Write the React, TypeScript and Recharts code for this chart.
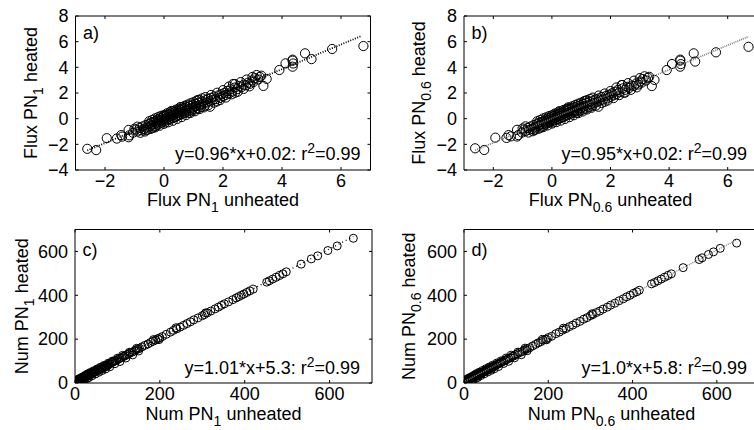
import React from "react";
import { ScatterChart, Scatter, XAxis, YAxis, ReferenceArea, Label } from "recharts";

const FONT = '"Liberation Sans", Arial, Helvetica, sans-serif';
const FS = 18;
const XAXIS_H = 30;
const TICK = 3;

// [unheated, heated]
const fluxPN1: [number, number][] = [
  [-2.6, -2.35], [-2.3, -2.45], [-1.94, -1.52], [-1.6, -1.55], [-1.45, -1.28], [-1.42, -1.4],
  [-1.2, -0.88], [-1.2, -1.45], [-1.18, -1.3], [-1.05, -1.1], [-0.95, -0.85], [-0.9, -1.0],
  [-0.82, -0.72], [-0.78, -0.9], [-0.72, -0.6], [-0.68, -0.82], [-0.62, -0.5], [-0.6, -0.7],
  [-0.55, -0.85], [-0.52, -0.42], [-0.48, -0.6], [-0.45, -0.32], [-0.42, -0.5], [-0.38, -0.72],
  [-0.35, -0.25], [-0.32, -0.42], [-0.3, -0.58], [-0.27, -0.15], [-0.25, -0.32], [-0.22, -0.48],
  [-0.2, -0.05], [-0.18, -0.22], [-0.15, -0.38], [-0.12, 0.05], [-0.1, -0.12], [-0.08, -0.3],
  [-0.05, 0.12], [-0.02, -0.05], [0.0, -0.22], [0.02, 0.2], [0.05, 0.02], [0.08, -0.12],
  [0.1, 0.28], [0.12, 0.1], [0.15, -0.05], [0.18, 0.35], [0.2, 0.15], [0.22, -0.02],
  [0.25, 0.4], [0.28, 0.22], [0.3, 0.05], [0.32, 0.48], [0.35, 0.3], [0.38, 0.12],
  [0.4, 0.55], [0.42, 0.38], [0.45, 0.2], [0.48, 0.62], [0.5, 0.45], [0.52, 0.28],
  [0.55, 0.7], [0.58, 0.5], [0.6, 0.35], [0.62, 0.78], [0.65, 0.58], [0.68, 0.42],
  [0.7, 0.85], [0.72, 0.65], [0.75, 0.5], [0.78, 0.92], [0.8, 0.72], [0.85, 0.6],
  [0.88, 1.0], [0.9, 0.8], [0.95, 0.65], [0.98, 1.08], [1.0, 0.88], [1.05, 0.72],
  [1.08, 1.15], [1.1, 0.98], [1.15, 0.8], [1.18, 1.25], [1.2, 1.05], [1.25, 0.9],
  [1.3, 1.35], [1.32, 1.15], [1.38, 1.0], [1.42, 1.45], [1.45, 1.25], [1.5, 1.55],
  [1.55, 1.35], [1.56, 0.93], [1.6, 1.62], [1.65, 1.45], [1.7, 1.72], [1.75, 1.52],
  [1.8, 1.35], [1.85, 1.82], [1.9, 1.62], [1.95, 1.9], [2.0, 1.75], [2.05, 2.02],
  [2.1, 1.85], [2.15, 2.15], [2.2, 1.95], [2.25, 2.28], [2.3, 2.1], [2.34, 2.7],
  [2.41, 2.02], [2.4, 2.42], [2.48, 2.3], [2.55, 2.55], [2.62, 2.45], [2.7, 2.65],
  [2.78, 2.6], [2.85, 2.8], [2.92, 2.72], [3.0, 2.98], [3.03, 2.86], [3.08, 3.15],
  [3.14, 3.4], [3.2, 3.05], [3.25, 3.25], [3.3, 3.35], [3.37, 2.55], [3.48, 3.1],
  [3.91, 3.79], [4.12, 4.31], [4.36, 4.52], [4.36, 4.05], [4.36, 4.6], [4.38, 4.3],
  [4.78, 5.09], [5.0, 4.64], [5.7, 5.43], [6.76, 5.66],
  [-0.5, -0.2], [-0.4, -0.1], [-0.3, 0.02], [-0.2, 0.12], [-0.1, 0.22], [0.0, 0.28],
  [0.1, 0.42], [0.2, 0.5], [0.3, 0.58], [0.4, 0.7], [0.5, 0.78], [0.6, 0.9],
  [0.7, 1.0], [0.8, 1.1], [0.9, 1.2], [1.0, 1.28], [1.1, 1.4], [1.2, 1.48],
  [1.3, 1.58], [1.4, 1.68], [1.6, 1.85], [-0.6, -0.9], [-0.45, -0.8], [-0.3, -0.68],
  [-0.15, -0.55], [0.0, -0.4], [0.15, -0.28], [0.3, -0.16], [0.45, -0.02], [0.6, 0.12],
  [0.75, 0.28], [0.9, 0.45], [1.05, 0.58], [1.2, 0.75], [1.35, 0.88], [1.5, 1.05],
  [1.7, 1.25], [1.9, 1.45], [2.1, 1.65], [2.3, 1.9], [2.5, 2.1], [2.7, 2.32],
  [2.9, 2.52], [2.2, 2.5], [2.4, 2.7], [2.6, 2.85], [2.8, 3.05], [3.0, 3.25],
  [1.8, 2.02], [2.0, 2.22], [-0.9, -0.62], [-1.0, -0.78], [-0.8, -1.1], [-0.65, -1.0],
  [0.25, 0.6], [0.55, 0.9], [0.85, 0.45], [1.15, 1.45], [0.05, -0.3],
];

const fluxPN06: [number, number][] = [
  [-2.62, -2.31], [-2.31, -2.44], [-1.93, -1.48], [-1.55, -1.5], [-1.48, -1.28], [-1.4, -1.38],
  [-1.19, -0.87], [-1.19, -1.39], [-1.15, -1.28], [-1.02, -1.08], [-0.95, -0.85], [-0.9, -0.98],
  [-0.82, -0.72], [-0.78, -0.88], [-0.72, -0.6], [-0.68, -0.8], [-0.62, -0.5], [-0.6, -0.68],
  [-0.55, -0.84], [-0.52, -0.42], [-0.48, -0.58], [-0.45, -0.32], [-0.42, -0.5], [-0.38, -0.7],
  [-0.35, -0.26], [-0.32, -0.42], [-0.3, -0.56], [-0.27, -0.16], [-0.25, -0.32], [-0.22, -0.46],
  [-0.2, -0.06], [-0.18, -0.22], [-0.15, -0.36], [-0.12, 0.04], [-0.1, -0.12], [-0.08, -0.28],
  [-0.05, 0.1], [-0.02, -0.05], [0.0, -0.2], [0.02, 0.18], [0.05, 0.02], [0.08, -0.12],
  [0.1, 0.26], [0.12, 0.1], [0.15, -0.04], [0.18, 0.33], [0.2, 0.15], [0.22, -0.02],
  [0.25, 0.38], [0.28, 0.21], [0.3, 0.05], [0.32, 0.46], [0.35, 0.29], [0.38, 0.12],
  [0.4, 0.53], [0.42, 0.37], [0.45, 0.2], [0.48, 0.6], [0.5, 0.44], [0.52, 0.27],
  [0.55, 0.68], [0.58, 0.49], [0.6, 0.34], [0.62, 0.76], [0.65, 0.57], [0.68, 0.41],
  [0.7, 0.83], [0.72, 0.63], [0.75, 0.49], [0.78, 0.9], [0.8, 0.7], [0.85, 0.58],
  [0.88, 0.97], [0.9, 0.78], [0.95, 0.63], [0.98, 1.05], [1.0, 0.86], [1.05, 0.7],
  [1.08, 1.12], [1.1, 0.95], [1.15, 0.78], [1.18, 1.22], [1.2, 1.02], [1.25, 0.88],
  [1.3, 1.32], [1.32, 1.12], [1.38, 0.98], [1.42, 1.42], [1.45, 1.22], [1.5, 1.51],
  [1.55, 1.32], [1.59, 0.93], [1.6, 1.58], [1.65, 1.42], [1.7, 1.68], [1.75, 1.49],
  [1.8, 1.32], [1.85, 1.78], [1.9, 1.58], [1.95, 1.86], [2.0, 1.71], [2.05, 1.98],
  [2.1, 1.81], [2.15, 2.1], [2.2, 1.91], [2.25, 2.23], [2.3, 2.06], [2.38, 2.62],
  [2.45, 2.02], [2.42, 2.36], [2.5, 2.25], [2.57, 2.48], [2.64, 2.4], [2.72, 2.58],
  [2.8, 2.55], [2.88, 2.74], [2.95, 2.66], [3.02, 2.9], [3.06, 2.8], [3.1, 3.08],
  [3.16, 3.3], [3.22, 2.98], [3.28, 3.18], [3.32, 3.26], [3.41, 2.54], [3.5, 3.02],
  [3.92, 3.79], [4.1, 4.26], [4.38, 4.52], [4.38, 4.05], [4.38, 4.6], [4.4, 4.25],
  [4.84, 5.09], [4.89, 4.45], [5.6, 5.17], [6.71, 5.6],
  [-0.5, -0.2], [-0.4, -0.1], [-0.3, 0.02], [-0.2, 0.1], [-0.1, 0.2], [0.0, 0.27],
  [0.1, 0.4], [0.2, 0.48], [0.3, 0.56], [0.4, 0.68], [0.5, 0.76], [0.6, 0.87],
  [0.7, 0.97], [0.8, 1.07], [0.9, 1.17], [1.0, 1.25], [1.1, 1.36], [1.2, 1.44],
  [1.3, 1.54], [1.4, 1.64], [1.6, 1.8], [-0.6, -0.88], [-0.45, -0.78], [-0.3, -0.66],
  [-0.15, -0.53], [0.0, -0.38], [0.15, -0.27], [0.3, -0.15], [0.45, -0.02], [0.6, 0.12],
  [0.75, 0.27], [0.9, 0.43], [1.05, 0.56], [1.2, 0.72], [1.35, 0.85], [1.5, 1.02],
  [1.7, 1.22], [1.9, 1.41], [2.1, 1.6], [2.3, 1.84], [2.5, 2.03], [2.7, 2.25],
  [2.9, 2.44], [2.2, 2.43], [2.4, 2.62], [2.6, 2.77], [2.8, 2.96], [3.0, 3.16],
  [1.8, 1.96], [2.0, 2.15], [-0.9, -0.6], [-1.0, -0.76], [-0.8, -1.08], [-0.65, -0.98],
  [0.25, 0.58], [0.55, 0.87], [0.85, 0.45], [1.15, 1.4], [0.05, -0.29],
];

const numPN1: [number, number][] = [
  [3, 6], [4, 10], [5, 7], [6, 12], [7, 9], [8, 14], [9, 11], [10, 16], [11, 13], [12, 18],
  [13, 15], [14, 20], [15, 17], [16, 22], [17, 19], [18, 24], [19, 21], [20, 26], [21, 23],
  [22, 28], [23, 25], [24, 31], [25, 27], [26, 33], [27, 29], [28, 35], [29, 31], [30, 37],
  [31, 34], [32, 39], [33, 36], [34, 41], [35, 38], [36, 43], [37, 40], [38, 45], [39, 42],
  [40, 48], [42, 45], [44, 51], [46, 49], [48, 55], [50, 53], [52, 59], [54, 57], [56, 63],
  [58, 61], [60, 67], [62, 65], [64, 71], [66, 69], [68, 75], [70, 73], [72, 79], [74, 77],
  [76, 83], [78, 81], [80, 87], [83, 88], [86, 93], [89, 95], [92, 99], [95, 101], [98, 105],
  [102, 108], [106, 113], [110, 116], [114, 121], [118, 124], [122, 129], [126, 132],
  [130, 137], [135, 141], [140, 146], [144, 151], [148, 155], [152, 158], [158, 165],
  [165, 172], [172, 178], [178, 185], [184, 190], [190, 196], [195, 202], [200, 206],
  [206, 212], [215, 222], [225, 232], [232, 240], [240, 247], [248, 255], [256, 263],
  [264, 271], [272, 279], [280, 288], [290, 297], [300, 307], [305, 312], [312, 320],
  [320, 328], [330, 338], [338, 346], [345, 354], [352, 361], [362, 370], [372, 380],
  [380, 388], [386, 394], [392, 400], [398, 406], [405, 413], [412, 420], [420, 428],
  [452, 460], [458, 466], [466, 474], [474, 482], [482, 490], [490, 498], [498, 507],
  [533, 542], [557, 566], [572, 580], [596, 604], [618, 625], [656, 660],
  [5, 15], [8, 4], [10, 20], [12, 6], [15, 25], [18, 10], [20, 30], [22, 14], [25, 36],
  [28, 20], [30, 42], [33, 25], [36, 48], [40, 33], [44, 56], [48, 41], [52, 64], [56, 49],
  [60, 72], [64, 57], [68, 80], [72, 64], [78, 90], [82, 74], [88, 100], [94, 88],
  [100, 113], [106, 98], [112, 126], [120, 114], [128, 140], [136, 128], [145, 158],
  [150, 146], [185, 198], [198, 198], [238, 252], [308, 320],
];

const numPN06: [number, number][] = [
  [3, 8], [4, 11], [5, 9], [6, 13], [7, 10], [8, 15], [9, 12], [10, 17], [11, 14], [12, 19],
  [13, 16], [14, 21], [15, 18], [16, 23], [17, 20], [18, 25], [19, 22], [20, 27], [21, 24],
  [22, 29], [23, 26], [24, 31], [25, 28], [26, 33], [27, 30], [28, 35], [29, 32], [30, 37],
  [31, 34], [32, 39], [33, 36], [34, 41], [35, 38], [36, 43], [37, 40], [38, 45], [39, 42],
  [40, 47], [42, 45], [44, 51], [46, 49], [48, 55], [50, 53], [52, 59], [54, 57], [56, 63],
  [58, 61], [60, 67], [62, 65], [64, 71], [66, 69], [68, 75], [70, 73], [72, 79], [75, 80],
  [78, 85], [81, 86], [84, 91], [87, 92], [90, 97], [94, 99], [98, 105], [102, 107],
  [106, 113], [110, 115], [114, 121], [118, 123], [122, 129], [127, 133], [132, 139],
  [137, 142], [142, 149], [146, 152], [150, 157], [156, 161], [163, 169], [170, 176],
  [176, 183], [182, 188], [188, 195], [194, 199], [200, 207], [208, 213], [218, 225],
  [226, 232], [234, 241], [242, 248], [250, 257], [258, 264], [266, 273], [275, 281],
  [284, 291], [292, 298], [300, 307], [306, 312], [314, 321], [322, 328], [330, 337],
  [340, 346], [348, 355], [358, 364], [368, 375], [378, 384], [386, 393], [394, 400],
  [402, 409], [410, 416], [416, 423], [445, 452], [452, 458], [460, 466], [468, 474],
  [476, 482], [484, 490], [492, 498], [520, 526], [558, 563], [565, 571], [580, 586],
  [592, 598], [608, 614], [647, 638],
  [5, 16], [8, 5], [10, 21], [12, 7], [15, 26], [18, 11], [20, 31], [22, 15], [25, 37],
  [28, 21], [30, 43], [33, 26], [36, 49], [40, 34], [44, 57], [48, 42], [52, 65], [56, 50],
  [60, 73], [64, 58], [68, 81], [72, 65], [78, 91], [82, 75], [88, 101], [94, 89],
  [100, 114], [106, 99], [112, 127], [120, 115], [128, 141], [136, 129], [145, 159],
  [150, 147], [186, 199], [196, 197], [236, 250], [304, 316],
];

const fluxTicksX = [-2, 0, 2, 4, 6];
const fluxTicksY = [-4, -2, 0, 2, 4, 6, 8];
const numTicks = [0, 200, 400, 600];

// fitted lines: slope, intercept, x range
const fitA = [0.96, 0.02];
const fitB = [0.95, 0.02];
const fitC = [1.01, 5.3];
const fitD = [1.0, 5.8];
const fitRangeA = [-2.6, 6.7];
const fitRangeB = [-2.62, 6.71];
const fitRangeC = [3, 656];
const fitRangeD = [3, 647];

const fmt = (v: number) => (v < 0 ? `\u2212${-v}` : String(v));

const txt = { fontFamily: FONT, fontSize: FS, fill: "#000" };

function Panel(p: any) {
  const plotLeft = p.yAxisW;
  const plotRight = p.width - p.mRight;
  const plotTop = p.mTop;
  const plotBottom = p.height - p.mBottom - XAXIS_H;
  const midX = (plotLeft + plotRight) / 2;
  const midY = (plotTop + plotBottom) / 2;
  const pts = p.points.map(([x, y]: [number, number]) => ({ x, y }));
  const fitLine = p.fitRange.map((x: number) => ({ x, y: p.fit[0] * x + p.fit[1] }));

  const xTick = (t: any) => (
    <g>
      <line x1={t.x} x2={t.x} y1={plotBottom} y2={plotBottom - TICK} stroke="#000" />
      <line x1={t.x} x2={t.x} y1={plotTop} y2={plotTop + TICK} stroke="#000" />
      <text x={t.x} y={plotBottom + 17} textAnchor="middle" {...txt}>
        {fmt(t.payload.value)}
      </text>
    </g>
  );
  const yTick = (t: any) => (
    <g>
      <line x1={plotLeft} x2={plotLeft + TICK} y1={t.y} y2={t.y} stroke="#000" />
      <line x1={plotRight} x2={plotRight - TICK} y1={t.y} y2={t.y} stroke="#000" />
      <text x={plotLeft - 7} y={t.y} dy="0.35em" textAnchor="end" {...txt}>
        {fmt(t.payload.value)}
      </text>
    </g>
  );

  const xTitle = () => (
    <text x={midX} y={plotBottom + p.xTitleGap} textAnchor="middle" {...txt}>
      {p.name} PN
      <tspan dy={6} fontSize={14}>{p.sub}</tspan>
      <tspan dy={-6}> unheated</tspan>
    </text>
  );
  const yX = plotLeft - p.yTitleGap;
  const yTitle = () => (
    <text x={yX} y={midY} textAnchor="middle" transform={`rotate(-90, ${yX}, ${midY})`} {...txt}>
      {p.name} PN
      <tspan dy={6} fontSize={14}>{p.sub}</tspan>
      <tspan dy={-6}> heated</tspan>
    </text>
  );
  const boxText = () => (
    <g>
      <text x={plotLeft + 7.5} y={plotTop + p.tagDy} {...txt}>
        {p.tag}
      </text>
      <text x={plotRight - p.eqDx} y={plotBottom - p.eqDy} textAnchor="end" {...txt}>
        {`y=${p.fit[0].toFixed(p.slopeDigits)}*x+${p.fit[1]}: r`}
        <tspan dy={-7} fontSize={14}>2</tspan>
        <tspan dy={7}>=0.99</tspan>
      </text>
    </g>
  );

  return (
    <div style={{ position: "absolute", left: p.left, top: p.top }}>
      <ScatterChart
        width={p.width}
        height={p.height}
        margin={{ top: p.mTop, right: p.mRight, bottom: p.mBottom, left: 0 }}
      >
        <XAxis
          type="number"
          dataKey="x"
          domain={p.xDomain}
          ticks={p.xTicks}
          interval={0}
          allowDataOverflow
          axisLine={false}
          tickLine={false}
          tickSize={0}
          tickMargin={0}
          height={XAXIS_H}
          tick={xTick}
        >
          <Label content={xTitle} />
        </XAxis>
        <YAxis
          type="number"
          dataKey="y"
          domain={p.yDomain}
          ticks={p.yTicks}
          interval={0}
          allowDataOverflow
          axisLine={false}
          tickLine={false}
          tickSize={0}
          tickMargin={0}
          width={p.yAxisW}
          tick={yTick}
        >
          <Label content={yTitle} />
        </YAxis>
        <ReferenceArea
          x1={p.xDomain[0]}
          x2={p.xDomain[1]}
          y1={p.yDomain[0]}
          y2={p.yDomain[1]}
          fill="none"
          stroke="#000"
          strokeWidth={1}
          label={boxText}
        />
        <Scatter
          data={pts}
          isAnimationActive={false}
          shape={(s: any) => (
            <circle cx={s.cx} cy={s.cy} r={p.r} fill="none" stroke="#000" strokeWidth={1} />
          )}
        />
        <Scatter
          data={fitLine}
          isAnimationActive={false}
          line={{ stroke: p.lineColor, strokeWidth: p.lineW, strokeDasharray: p.dash }}
          shape={() => <g />}
        />
      </ScatterChart>
    </div>
  );
}

export default function App() {
  const top = { height: 215, mTop: 16, mBottom: 15, xTitleGap: 35.5, xDomain: [-3, 7], yDomain: [-4, 8], xTicks: fluxTicksX, yTicks: fluxTicksY, name: "Flux", r: 4.6, eqDx: 10, eqDy: 10, slopeDigits: 2 };
  const bottom = { height: 215, mTop: 14.5, mBottom: 17, xTitleGap: 36.5, xDomain: [0, 700], yDomain: [0, 700], xTicks: numTicks, yTicks: numTicks, name: "Num", r: 4, eqDx: 12, eqDy: 9 };
  return (
    <div
      style={{
        position: "absolute",
        left: 0,
        top: 0,
        width: 754,
        height: 430,
        overflow: "hidden",
        background: "#fff",
      }}
    >
      <Panel {...top} left={0} top={0} width={377} yAxisW={75.5} mRight={6.5} points={fluxPN1} fit={fitA} fitRange={fitRangeA} tag="a)" tagDy={23} sub="1" yTitleGap={38.5} lineColor="#000" lineW={1.8} dash="1 1.5" />
      <Panel {...top} left={377} top={0} width={390} yAxisW={87} mRight={10} points={fluxPN06} fit={fitB} fitRange={fitRangeB} tag="b)" tagDy={23} sub="0.6" yTitleGap={39} lineColor="#777" lineW={1.6} dash="1 1" />
      <Panel {...bottom} left={0} top={215} width={377} yAxisW={75} mRight={5} points={numPN1} fit={fitC} fitRange={fitRangeC} tag="c)" tagDy={26.5} sub="1" yTitleGap={47} lineColor="#000" lineW={1.3} dash="1 3" slopeDigits={2} />
      <Panel {...bottom} left={377} top={215} width={390} yAxisW={87} mRight={8} points={numPN06} fit={fitD} fitRange={fitRangeD} tag="d)" tagDy={26.5} sub="0.6" yTitleGap={49} lineColor="#888" lineW={1.4} dash="1 1" slopeDigits={1} />
    </div>
  );
}
